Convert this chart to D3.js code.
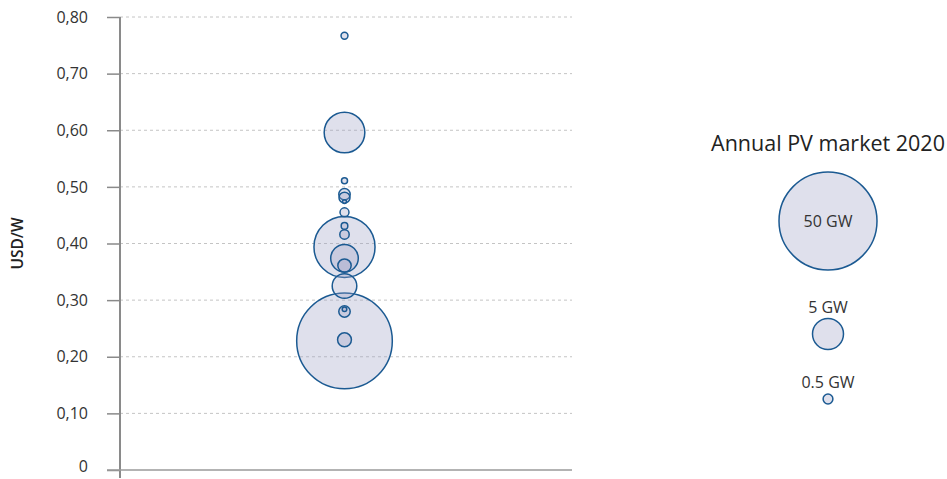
<!DOCTYPE html>
<html>
<head>
<meta charset="utf-8">
<script src="https://cdn.jsdelivr.net/npm/d3@7"></script>
<style>
  html, body { margin: 0; padding: 0; background: #fff; }
  svg { display: block; font-family: "Open Sans", "Noto Sans", sans-serif; }
</style>
</head>
<body>
<svg id="chart" width="947" height="479"></svg>
<script>
// ---- data ----
const categories = ["2020"];
const prices = [0.767, 0.596, 0.511, 0.487, 0.481, 0.474, 0.455, 0.431, 0.416, 0.394, 0.374, 0.361, 0.325, 0.284, 0.280, 0.230, 0.228];
const marketGW = [0.25, 8.6, 0.19, 0.68, 0.63, 0.08, 0.42, 0.23, 0.46, 19.4, 3.96, 0.93, 3.15, 0.11, 0.68, 1.0, 47.6];
const yTicks = [0, 0.1, 0.2, 0.3, 0.4, 0.5, 0.6, 0.7, 0.8];
const legendValues = [50, 5, 0.5];
const legendLabels = ["50 GW", "5 GW", "0.5 GW"];
const legendTitle = "Annual PV market 2020";
const yLabel = "USD/W";

const svg = d3.select("#chart");
const FONT = "'Open Sans', 'Noto Sans', sans-serif";

const y = d3.scaleLinear().domain([0, 0.8]).range([470, 17]);
const x = d3.scalePoint().domain(categories).range([120, 569]).padding(0.5);
const r = d3.scaleSqrt().domain([0, 50]).range([0, 49]);

const fmt = v => v === 0 ? "0" : d3.format(".2f")(v).replace(".", ",");

// gridlines
svg.append("g").selectAll("line").data(yTicks.filter(t => t > 0)).join("line")
  .attr("x1", 120).attr("x2", 572)
  .attr("y1", d => y(d)).attr("y2", d => y(d))
  .attr("stroke", "#c4c4c4").attr("stroke-width", 1).attr("stroke-dasharray", "3,3");

// y axis
const yAxis = d3.axisLeft(y).tickValues(yTicks).tickFormat(fmt).tickSize(13).tickPadding(19);
const gy = svg.append("g").attr("transform", "translate(120,0)").call(yAxis);
gy.select(".domain").remove();
gy.selectAll(".tick line").attr("stroke", "#8a8a8a").attr("stroke-width", 1.5);
gy.selectAll(".tick text").attr("fill", "#333").attr("font-size", 16)
  .attr("font-family", FONT)
  .attr("dy", d => d === 0 ? "0.12em" : "0.32em");

// axis lines
svg.append("line").attr("x1", 120).attr("x2", 120).attr("y1", y(0.8)).attr("y2", 478)
  .attr("stroke", "#8a8a8a").attr("stroke-width", 2);
svg.append("line").attr("x1", 107).attr("x2", 572).attr("y1", y(0)).attr("y2", y(0))
  .attr("stroke", "#9a9a9a").attr("stroke-width", 1.5);

// y label
svg.append("text")
  .attr("transform", `translate(23,${y(0.4)}) rotate(-90)`)
  .attr("text-anchor", "middle")
  .attr("font-size", 15.5).attr("font-weight", 600).attr("fill", "#222")
  .text(yLabel);

// bubbles
const data = prices.map((p, i) => ({ cat: categories[0], price: p, gw: marketGW[i] }));
data.sort((a, b) => b.gw - a.gw);
svg.append("g").selectAll("circle").data(data).join("circle")
  .attr("cx", d => x(d.cat)).attr("cy", d => y(d.price)).attr("r", d => r(d.gw))
  .attr("fill", "rgb(155,158,196)").attr("fill-opacity", 0.32)
  .attr("stroke", "#1b5a92").attr("stroke-width", 1.5);

// legend
const lx = 828;
svg.append("text").attr("x", lx).attr("y", 151).attr("text-anchor", "middle")
  .attr("font-size", 21.5).attr("font-weight", 500).attr("fill", "#222").text(legendTitle);

const legendY = [221, 334, 399];
const lg = svg.append("g");
lg.selectAll("circle").data(legendValues).join("circle")
  .attr("cx", lx).attr("cy", (d, i) => legendY[i]).attr("r", d => r(d))
  .attr("fill", "rgb(155,158,196)").attr("fill-opacity", 0.32)
  .attr("stroke", "#1b5a92").attr("stroke-width", 1.5);
lg.selectAll("text").data(legendLabels).join("text")
  .attr("x", lx)
  .attr("y", (d, i) => i === 0 ? legendY[0] + 6 : legendY[i] - r(legendValues[i]) - 6)
  .attr("text-anchor", "middle").attr("font-size", 16).attr("fill", "#333")
  .text(d => d);
</script>
</body>
</html>
